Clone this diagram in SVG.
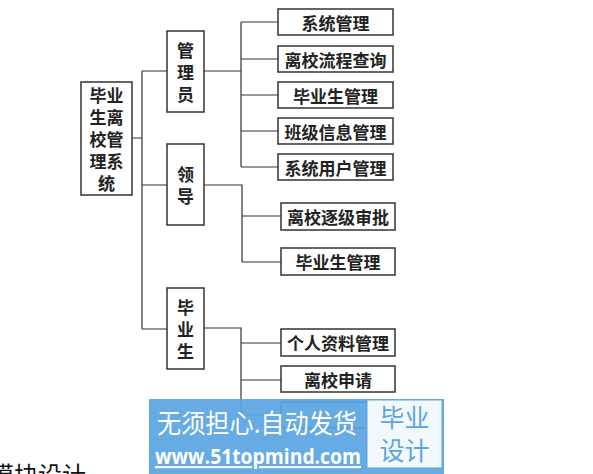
<svg xmlns="http://www.w3.org/2000/svg" width="593" height="474" viewBox="0 0 593 474">
<style>
.box{fill:#fff;stroke:#333;stroke-width:1.5}
.ln{fill:none;stroke:#333;stroke-width:1.2}
.t{font-family:"Noto Sans CJK SC","Noto Sans CJK TC",sans-serif;font-size:17px;font-weight:bold;fill:#222;text-anchor:middle;dominant-baseline:central}
.wm{font-family:"Noto Sans CJK SC","Open Sans",sans-serif}
</style>
<rect width="593" height="474" fill="#fff"/>
<g id="connectors">
<path class="ln" d="M132 138H142M142 71V329M142 71H167M142 185H167M142 329H167"/>
<path class="ln" d="M204 71H241M241 22V167M241 22H278M241 59H278M241 95H278M241 131H278M241 167H278"/>
<path class="ln" d="M204 185H242V262M242 216H281M242 262H281"/>
<path class="ln" d="M204 328H241V415M241 343H281M241 380H281M241 415H281"/>
</g>
<g id="root"><rect class="box" x="81" y="82" width="51" height="113"/>
<text class="t" x="106.5" y="94">毕业</text><text class="t" x="106.5" y="116">生离</text><text class="t" x="106.5" y="138">校管</text><text class="t" x="106.5" y="160">理系</text><text class="t" x="106.5" y="182">统</text></g>
<g id="admin"><rect class="box" x="167" y="31" width="37" height="81"/>
<text class="t" x="185.5" y="49">管</text><text class="t" x="185.5" y="71">理</text><text class="t" x="185.5" y="93">员</text></g>
<g id="leader"><rect class="box" x="167" y="144" width="37" height="81"/>
<text class="t" x="185.5" y="173">领</text><text class="t" x="185.5" y="195">导</text></g>
<g id="grad"><rect class="box" x="167" y="288" width="37" height="81"/>
<text class="t" x="185.5" y="306">毕</text><text class="t" x="185.5" y="328">业</text><text class="t" x="185.5" y="350">生</text></g>
<g id="a1"><rect class="box" x="278" y="9" width="115" height="26"/><text class="t" x="335.5" y="22">系统管理</text></g>
<g id="a2"><rect class="box" x="278" y="46" width="115" height="26"/><text class="t" x="335.5" y="59">离校流程查询</text></g>
<g id="a3"><rect class="box" x="278" y="82" width="115" height="26"/><text class="t" x="335.5" y="95">毕业生管理</text></g>
<g id="a4"><rect class="box" x="278" y="118" width="115" height="26"/><text class="t" x="335.5" y="131">班级信息管理</text></g>
<g id="a5"><rect class="box" x="278" y="154" width="115" height="26"/><text class="t" x="335.5" y="167">系统用户管理</text></g>
<g id="l1"><rect class="box" x="281" y="203" width="114" height="27"/><text class="t" x="338" y="216.5">离校逐级审批</text></g>
<g id="l2"><rect class="box" x="281" y="248" width="114" height="27"/><text class="t" x="338" y="261.5">毕业生管理</text></g>
<g id="g1"><rect class="box" x="281" y="329" width="114" height="27"/><text class="t" x="338" y="342.5">个人资料管理</text></g>
<g id="g2"><rect class="box" x="281" y="366" width="114" height="26"/><text class="t" x="338" y="379">离校申请</text></g>
<g id="g3"><rect class="box" x="281" y="402" width="114" height="26"/></g>
<text x="-10" y="484" font-family="Noto Sans CJK SC,sans-serif" font-size="24" fill="#111">模块设计</text>
<g id="watermark">
<rect x="149" y="399" width="295" height="75" fill="#5ba5e3" opacity="0.93"/>
<rect x="367" y="400" width="75" height="68" fill="#fff" opacity="0.92" stroke="#5ba5e3"/>
<text class="wm" x="404.5" y="427" font-size="25" fill="#5ba5e3" text-anchor="middle">毕业</text>
<text class="wm" x="404.5" y="460" font-size="25" fill="#5ba5e3" text-anchor="middle">设计</text>
<text class="wm" x="157" y="433" font-size="26" fill="#fff" textLength="200" lengthAdjust="spacingAndGlyphs">无须担心.自动发货</text>
<text x="155" y="464" font-family="Open Sans,sans-serif" font-weight="bold" font-size="22" fill="#fff" text-decoration="underline" textLength="206" lengthAdjust="spacingAndGlyphs">www.51topmind.com</text>
</g>
</svg>
